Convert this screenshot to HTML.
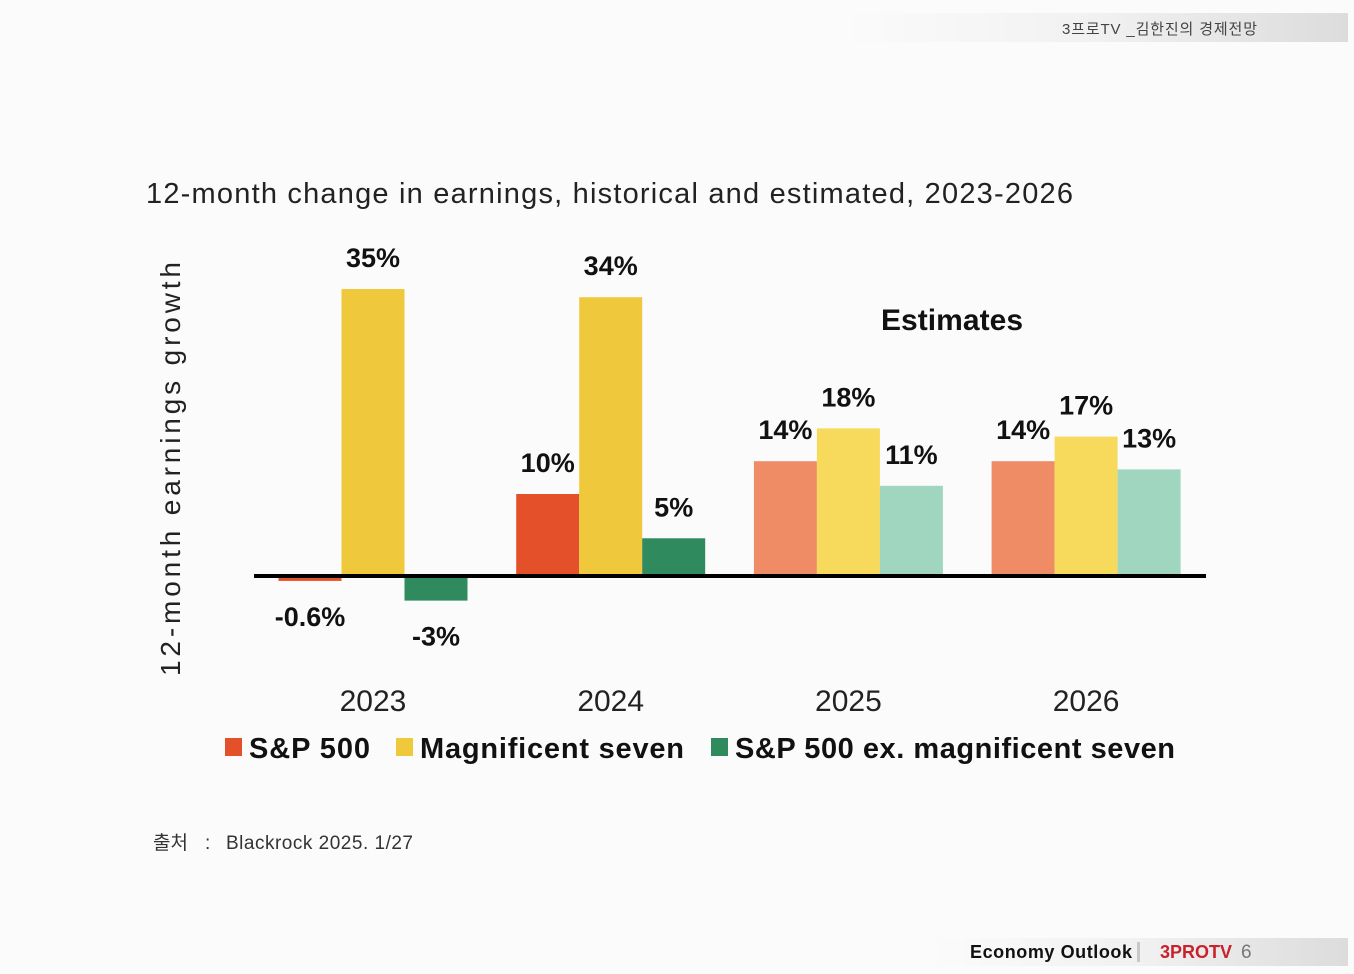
<!DOCTYPE html>
<html><head><meta charset="utf-8"><style>
html,body{margin:0;padding:0;background:#fbfbfb;}
body{width:1354px;height:974px;position:relative;overflow:hidden;font-family:"Liberation Sans","Noto Sans CJK KR",sans-serif;}
svg{position:absolute;left:0;top:0;}
</style></head><body>
<svg id="c" width="1354" height="974">
  <defs>
    <linearGradient id="hg" x1="0" x2="1"><stop offset="0" stop-color="#fbfbfb"/><stop offset="0.5" stop-color="#f1f1f1"/><stop offset="1" stop-color="#dcdcdc"/></linearGradient>
  </defs>
  <rect x="845" y="13" width="503" height="29" fill="url(#hg)"/>
  <text x="1062" y="34" textLength="195" font-size="15" fill="#444">3프로TV _김한진의 경제전망</text>
  <rect x="930" y="938" width="418" height="28" fill="url(#hg)"/>
  <text x="970" y="958" textLength="162" font-size="18" font-weight="bold" fill="#111">Economy Outlook</text>
  <rect x="1137" y="942" width="3" height="20" fill="#c8c8c8"/>
  <text x="1160" y="958" font-size="18" font-weight="bold" fill="#c8232c">3PROTV</text>
  <text x="1241" y="958" font-size="19" fill="#777">6</text>
  <text x="146" y="203" textLength="927" font-size="29" fill="#222">12-month change in earnings, historical and estimated, 2023-2026</text>
  <text transform="translate(180,469) rotate(-90)" text-anchor="middle" textLength="414" font-size="28" fill="#222">12-month earnings growth</text>
  <text x="952" y="330" text-anchor="middle" textLength="142" font-size="30" font-weight="bold" fill="#111">Estimates</text>
  <g id="bars"></g>
  <rect x="254" y="574" width="952" height="4" fill="#000"/>
  <g id="legend"></g>
  <text x="153" y="849" font-size="19" fill="#333">출처</text>
  <text x="205" y="849" font-size="19" fill="#333">:</text>
  <text x="226" y="849" textLength="187" font-size="19" fill="#333">Blackrock 2025. 1/27</text>
</svg>
<script>
const categories=["2023","2024","2025","2026"];
const sp500=[-0.6,10,14,14];
const mag7=[35,34,18,17];
const exMag7=[-3,4.6,11,13];
const sp500Labels=["-0.6%","10%","14%","14%"];
const mag7Labels=["35%","34%","18%","17%"];
const exMag7Labels=["-3%","5%","11%","13%"];
const seriesNames=["S&P 500","Magnificent seven","S&P 500 ex. magnificent seven"];
const NS="http://www.w3.org/2000/svg";
const y0=576, ppu=8.2, bw=63;
const y=v=>y0-v*ppu;
const xc=i=>373+i*237.7;
const solid=["#e4502a","#efc93b","#2f8a5e"];
const light=["#ef8c66","#f7d95c","#a0d6bf"];
const g=document.getElementById('bars');
function mk(tag,attrs){const e=document.createElementNS(NS,tag);for(const k in attrs)e.setAttribute(k,attrs[k]);return e;}
const data=[sp500,mag7,exMag7], labs=[sp500Labels,mag7Labels,exMag7Labels];
categories.forEach((cat,i)=>{
  data.forEach((arr,s)=>{
    const v=arr[i];
    const x=xc(i)+(s-1.5)*bw;
    const top=Math.min(y(v),y0), h=Math.abs(y(v)-y0);
    const r=mk('rect',{x:x,y:top,width:bw,height:Math.max(h,1),fill:(i>=2?light:solid)[s]});
    
    
    g.appendChild(r);
    const t=mk('text',{x:x+bw/2,'text-anchor':'middle','font-size':27,'font-weight':'bold',fill:'#111'});
    t.setAttribute('y',v>=0?y(v)-22:y(v)+45);
    t.textContent=labs[s][i];
    
    
    g.appendChild(t);
  });
  const c=mk('text',{x:xc(i),y:711,'text-anchor':'middle','font-size':30,fill:'#222'});
  c.textContent=cat;
  
  
  g.appendChild(c);
});
const lg=document.getElementById('legend');
const lx=[225,396,711];
const lw=[121,264,440];
seriesNames.forEach((n,s)=>{
  const r=mk('rect',{x:lx[s],y:738,width:17,height:18,fill:solid[s]});
  
  
  lg.appendChild(r);
  const t=mk('text',{x:lx[s]+24,y:758,'font-size':29,'font-weight':'bold',fill:'#111',textLength:lw[s]});
  t.textContent=n;
  
  
  lg.appendChild(t);
});
</script>
</body></html>
